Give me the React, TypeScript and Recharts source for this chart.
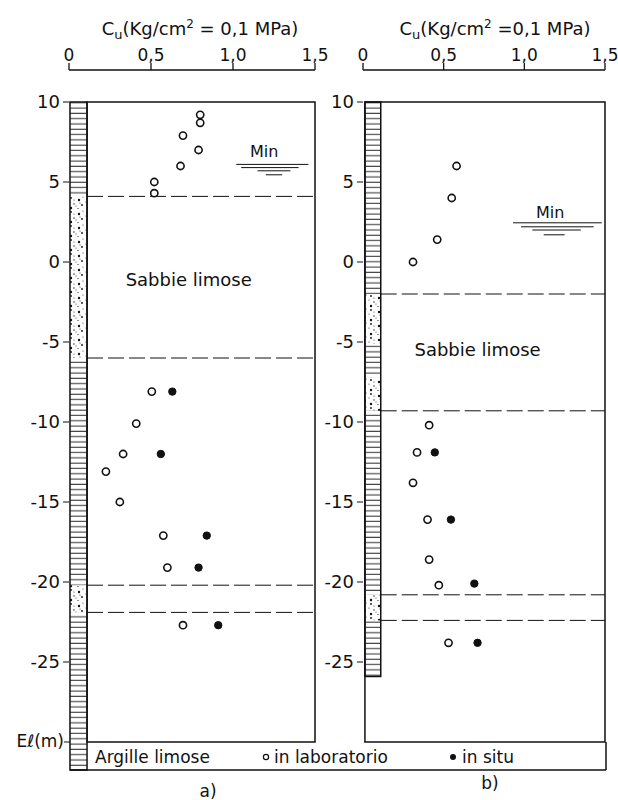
import { ScatterChart, Scatter, XAxis, YAxis, ReferenceArea, ReferenceLine, ReferenceDot } from "recharts";

// Cu (kg/cm2) vs elevation (m) — panel a)
const labA = [
  { cu: 0.8, el: 9.2 },
  { cu: 0.8, el: 8.7 },
  { cu: 0.695, el: 7.9 },
  { cu: 0.79, el: 7.0 },
  { cu: 0.68, el: 6.0 },
  { cu: 0.52, el: 5.0 },
  { cu: 0.52, el: 4.3 },
  { cu: 0.505, el: -8.1 },
  { cu: 0.41, el: -10.1 },
  { cu: 0.33, el: -12.0 },
  { cu: 0.225, el: -13.1 },
  { cu: 0.31, el: -15.0 },
  { cu: 0.575, el: -17.1 },
  { cu: 0.6, el: -19.1 },
  { cu: 0.695, el: -22.7 },
];
const situA = [
  { cu: 0.63, el: -8.1 },
  { cu: 0.56, el: -12.0 },
  { cu: 0.84, el: -17.1 },
  { cu: 0.79, el: -19.1 },
  { cu: 0.91, el: -22.7 },
];

// panel b)
const labB = [
  { cu: 0.58, el: 6.0 },
  { cu: 0.55, el: 4.0 },
  { cu: 0.46, el: 1.4 },
  { cu: 0.31, el: 0.0 },
  { cu: 0.41, el: -10.2 },
  { cu: 0.335, el: -11.9 },
  { cu: 0.31, el: -13.8 },
  { cu: 0.4, el: -16.1 },
  { cu: 0.41, el: -18.6 },
  { cu: 0.47, el: -20.2 },
  { cu: 0.53, el: -23.8 },
];
const situB = [
  { cu: 0.445, el: -11.9 },
  { cu: 0.545, el: -16.1 },
  { cu: 0.69, el: -20.1 },
  { cu: 0.71, el: -23.8 },
];

// soil column: top, bottom, kind
const strataA = [
  { top: 10, bottom: 4.1, kind: "clay" },
  { top: 4.1, bottom: -6, kind: "sand" },
  { top: -6, bottom: -20.2, kind: "clay" },
  { top: -20.2, bottom: -21.9, kind: "sand" },
  { top: -21.9, bottom: -31.75, kind: "clay" },
];
const strataB = [
  { top: 10, bottom: -2, kind: "clay" },
  { top: -2, bottom: -5.1, kind: "sand" },
  { top: -5.1, bottom: -7.2, kind: "clay" },
  { top: -7.2, bottom: -9.3, kind: "sand" },
  { top: -9.3, bottom: -20.8, kind: "clay" },
  { top: -20.8, bottom: -22.4, kind: "sand" },
  { top: -22.4, bottom: -25.9, kind: "clay" },
];
const boundsA = [4.1, -6, -20.2, -21.9];
const boundsB = [-2, -9.3, -20.8, -22.4];

// water table ("Min") marks: level, from, to
const waterA = [
  { el: 6.1, x1: 1.02, x2: 1.46 },
  { el: 5.9, x1: 1.05, x2: 1.4 },
  { el: 5.7, x1: 1.15, x2: 1.35 },
  { el: 5.45, x1: 1.2, x2: 1.3 },
];
const waterB = [
  { el: 2.45, x1: 0.93, x2: 1.48 },
  { el: 2.2, x1: 0.98, x2: 1.43 },
  { el: 2.0, x1: 1.05, x2: 1.35 },
  { el: 1.7, x1: 1.12, x2: 1.25 },
];

const xTicks = [0, 0.5, 1, 1.5];
const yTicks = [10, 5, 0, -5, -10, -15, -20, -25];

const font = "'DejaVu Sans', sans-serif";
const ink = "#111";

const OpenDot = (p: any) => <circle cx={p.cx} cy={p.cy} r={3.6} fill="#fff" stroke={ink} strokeWidth={1.6} />;
const FullDot = (p: any) => <circle cx={p.cx} cy={p.cy} r={3.7} fill={ink} stroke={ink} strokeWidth={1} />;

type Panel = {
  lab: { cu: number; el: number }[];
  situ: { cu: number; el: number }[];
  strata: { top: number; bottom: number; kind: string }[];
  bounds: number[];
  water: { el: number; x1: number; x2: number }[];
  colX: [number, number];
  frameX: number;
  colBottom: number;
  sabbie: { cu: number; el: number };
  min: { cu: number; el: number };
};

function SoilPanel({ p, width, margin }: { p: Panel; width: number; margin: any }) {
  return (
    <ScatterChart width={width} height={800} margin={margin} style={{ fontFamily: font }}>
      <XAxis
        type="number"
        dataKey="cu"
        orientation="top"
        domain={[0, 1.5]}
        ticks={xTicks}
        allowDataOverflow
        height={30}
        tickSize={7}
        tickMargin={2}
        stroke={ink}
        strokeWidth={1.3}
        tick={{ fill: ink, fontSize: 17 }}
        tickFormatter={(v: number) => (v === 0 ? "0" : v.toFixed(1).replace(".", ","))}
      />
      <YAxis
        type="number"
        dataKey="el"
        domain={[-31.75, 12]}
        ticks={yTicks}
        allowDataOverflow
        interval={0}
        width={60}
        axisLine={false}
        tickSize={6}
        tickMargin={3}
        stroke={ink}
        tick={{ fill: ink, fontSize: 18 }}
      />
      {p.strata.map((s, i) => (
        <ReferenceArea
          key={"s" + i}
          x1={p.colX[0]}
          x2={p.colX[1]}
          y1={s.bottom}
          y2={s.top}
          fill={s.kind === "sand" ? "url(#sand)" : "url(#hatch)"}
          fillOpacity={1}
          stroke="none"
        />
      ))}
      <ReferenceArea x1={p.colX[0]} x2={p.colX[1]} y1={p.colBottom} y2={10} fill="none" stroke={ink} strokeWidth={1.5} />
      <ReferenceArea x1={p.frameX} x2={1.5} y1={-30} y2={10} fill="none" fillOpacity={0} stroke={ink} strokeWidth={1.5} />
      {p.bounds.map((b, i) => (
        <ReferenceLine
          key={"b" + i}
          segment={[
            { x: p.colX[1], y: b },
            { x: 1.5, y: b },
          ]}
          stroke={ink}
          strokeWidth={1}
          strokeDasharray="16 5"
        />
      ))}
      {p.water.map((w, i) => (
        <ReferenceLine
          key={"w" + i}
          segment={[
            { x: w.x1, y: w.el },
            { x: w.x2, y: w.el },
          ]}
          stroke={ink}
          strokeWidth={1}
        />
      ))}
      <ReferenceDot
        x={p.min.cu}
        y={p.min.el}
        r={1}
        fill="none"
        stroke="none"
        label={{ value: "Min", position: "center", fill: ink, fontSize: 16 }}
      />
      <ReferenceDot
        x={p.sabbie.cu}
        y={p.sabbie.el}
        r={1}
        fill="none"
        stroke="none"
        label={{ value: "Sabbie limose", position: "center", fill: ink, fontSize: 18 }}
      />
      <Scatter data={p.lab} shape={OpenDot} isAnimationActive={false} />
      <Scatter data={p.situ} shape={FullDot} isAnimationActive={false} />
    </ScatterChart>
  );
}

const panelA: Panel = {
  lab: labA,
  situ: situA,
  strata: strataA,
  bounds: boundsA,
  water: waterA,
  colX: [0.006, 0.11],
  frameX: 0.11,
  colBottom: -31.75,
  sabbie: { cu: 0.73, el: -1.1 },
  min: { cu: 1.19, el: 6.9 },
};

const panelB: Panel = {
  lab: labB,
  situ: situB,
  strata: strataB,
  bounds: boundsB,
  water: waterB,
  colX: [0.012, 0.11],
  frameX: 0.012,
  colBottom: -25.9,
  sabbie: { cu: 0.71, el: -5.5 },
  min: { cu: 1.16, el: 3.1 },
};

function Title({ x, text }: { x: number; text: [string, string] }) {
  return (
    <text x={x} y={35} textAnchor="middle" fontSize={18} fill={ink} fontFamily={font}>
      C
      <tspan fontSize={13} dy={4}>u</tspan>
      <tspan dy={-4}>{text[0]}</tspan>
      <tspan fontSize={12} dy={-7}>2</tspan>
      <tspan dy={7}>{text[1]}</tspan>
    </text>
  );
}

export default function App() {
  return (
    <div style={{ position: "absolute", left: 0, top: 0, width: 618, height: 800, background: "#fff", fontFamily: font }}>
      <svg width={0} height={0} style={{ position: "absolute" }}>
        <defs>
          <pattern id="hatch" patternUnits="userSpaceOnUse" width={8} height={5.3}>
            <line x1={0} y1={2} x2={8} y2={2} stroke={ink} strokeWidth={0.9} />
          </pattern>
          <pattern id="sand" patternUnits="userSpaceOnUse" width={17} height={14}>
            <circle cx={3} cy={2} r={0.9} fill={ink} />
            <circle cx={11} cy={4} r={1.2} fill={ink} />
            <circle cx={6} cy={8} r={0.7} fill={ink} />
            <circle cx={14} cy={9} r={0.9} fill={ink} />
            <circle cx={3} cy={12} r={1.2} fill={ink} />
            <circle cx={10} cy={12.5} r={0.6} fill={ink} />
            <circle cx={15} cy={1} r={0.5} fill={ink} />
            <circle cx={8} cy={10} r={0.5} fill={ink} />
            <circle cx={1} cy={6} r={0.5} fill={ink} />
            <circle cx={12} cy={7} r={0.5} fill={ink} />
            <circle cx={6} cy={4} r={0.5} fill={ink} />
          </pattern>
        </defs>
      </svg>
      <div style={{ position: "absolute", left: 0, top: 0 }}>
        <SoilPanel p={panelA} width={340} margin={{ top: 40, right: 25, bottom: 30, left: 9 }} />
      </div>
      <div style={{ position: "absolute", left: 300, top: 0 }}>
        <SoilPanel p={panelB} width={318} margin={{ top: 40, right: 13, bottom: 30, left: 3 }} />
      </div>
      <svg width={618} height={800} style={{ position: "absolute", left: 0, top: 0, pointerEvents: "none" }}>
        <Title x={200} text={["(Kg/cm", " = 0,1 MPa)"]} />
        <Title x={495} text={["(Kg/cm", " =0,1 MPa)"]} />
        <text x={64} y={747} textAnchor="end" fontSize={17} fill={ink} fontFamily={font}>
          Eℓ(m)
        </text>
        <line x1={64} y1={742} x2={70} y2={742} stroke={ink} strokeWidth={1} />
        <line x1={70} y1={770} x2={606} y2={770} stroke={ink} strokeWidth={1.5} />
        <line x1={606} y1={742} x2={606} y2={770} stroke={ink} strokeWidth={1.5} />
        <text x={95} y={763} fontSize={17} fill={ink} fontFamily={font}>
          Argille limose
        </text>
        <circle cx={266} cy={757} r={2.6} fill="#fff" stroke={ink} strokeWidth={1.2} />
        <text x={274} y={763} fontSize={17} fill={ink} fontFamily={font}>
          in laboratorio
        </text>
        <circle cx={453} cy={757} r={3} fill={ink} />
        <text x={462} y={763} fontSize={17} fill={ink} fontFamily={font}>
          in situ
        </text>
        <text x={208} y={797} textAnchor="middle" fontSize={17} fill={ink} fontFamily={font}>
          a)
        </text>
        <text x={490} y={789} textAnchor="middle" fontSize={17} fill={ink} fontFamily={font}>
          b)
        </text>
      </svg>
    </div>
  );
}
